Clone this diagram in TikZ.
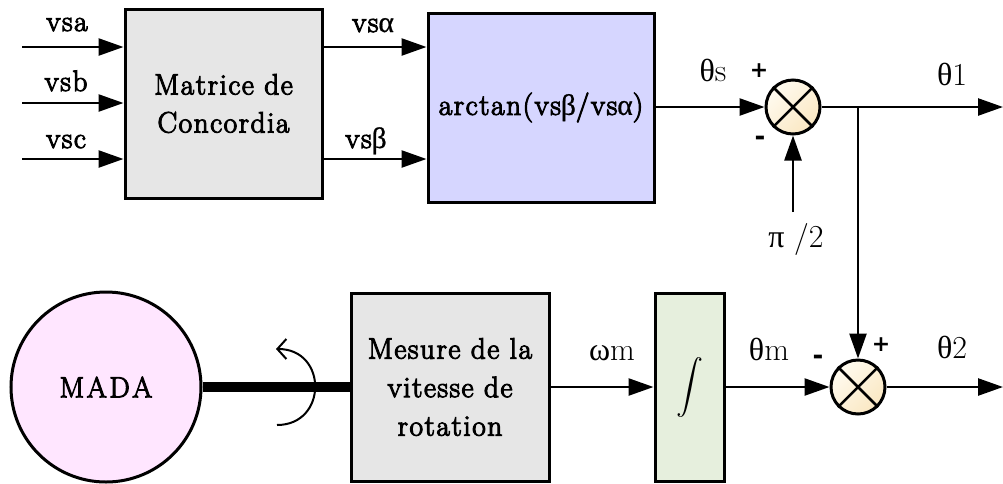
\documentclass[tikz,border=0pt]{standalone}
\usepackage{fontspec}
\newfontfamily\grkfont{Liberation Serif}
\newfontfamily\boxfont[FakeBold=3.5,LetterSpace=5]{Latin Modern Roman}
\newfontfamily\grkbox[FakeBold=0.7]{Liberation Serif}
\newfontfamily\signfont{DejaVu Sans}
\newcommand\grk[1]{{\grkfont\mdseries #1}}
\newcommand\grkb[1]{{\grkbox #1}}
\usetikzlibrary{arrows.meta}
\definecolor{cgray}{HTML}{E6E6E6}
\definecolor{clav}{HTML}{D6D6FF}
\definecolor{cgreen}{HTML}{E6EFDD}
\definecolor{cpink}{HTML}{FFE6FF}
\definecolor{csumA}{HTML}{FFFBF0}
\definecolor{csumB}{HTML}{FAE7C2}
\begin{document}
\begin{tikzpicture}[x=1pt,y=-1pt,
  blk/.style={draw, line width=3pt, align=center, inner sep=0pt,
    font=\boxfont\fontsize{29.5}{38}\selectfont},
  sumj/.style={circle, draw, line width=3pt, minimum size=54pt, inner sep=0pt,
    top color=csumA, bottom color=csumB, shading angle=45},
  arr/.style={line width=2.5pt, -{Triangle[length=25pt,width=17pt]}},
  cross/.style={line width=2.5pt},
  lbl/.style={font=\boxfont\fontsize{29.5}{34}\selectfont, anchor=base, inner sep=0pt},
  glbl/.style={font=\fontsize{32}{34}\selectfont, anchor=base, inner sep=0pt},
  plus/.style={font=\signfont\bfseries\fontsize{22}{24}\selectfont, inner sep=0pt},
  minus/.style={font=\signfont\bfseries\fontsize{26}{28}\selectfont, inner sep=0pt},
]
\useasboundingbox (0,0) rectangle (1003,483);

% blocks
\node[blk, fill=cgray, minimum width=197pt, minimum height=189pt] (conc) at (223.5,103.5) {Matrice de\\Concordia};
\node[blk, fill=clav, minimum width=226pt, minimum height=189pt] (atan) at (541,107.5) {arctan(vs\grkb{β}/vs\grkb{α})};
\node[blk, fill=cgray, minimum width=198pt, minimum height=188pt, font=\boxfont\fontsize{29.5}{38.5}\selectfont] (mes) at (450,387) {Mesure de la\\vitesse de\\rotation};
\node[blk, fill=cgreen, minimum width=69pt, minimum height=188pt] (integ) at (689.5,387) {};
\node[scale=2.7] (intsym) at (689.5,387) {$\displaystyle\int$};
\node[circle, draw, line width=3pt, fill=cpink, minimum size=190pt, inner sep=0pt,
  font=\boxfont\fontsize{29}{32}\selectfont] (mada) at (106,387) {M\kern2.5ptA\kern2.5ptD\kern2.5ptA};

% summing junctions
\node[sumj] (s1) at (793,107) {};
\node[sumj] (s2) at (858,387) {};
\draw[cross] (s1.north west) -- (s1.south east) (s1.north east) -- (s1.south west);
\draw[cross] (s2.north west) -- (s2.south east) (s2.north east) -- (s2.south west);

% coordinates
\coordinate (ina) at (22,47);
\coordinate (inb) at (22,103);
\coordinate (inc) at (22,159);
\coordinate (pistart) at (793,212);
\coordinate (br) at (858,107);
\coordinate (out1) at (1003,107);
\coordinate (out2) at (1003,387);

% connectors
\draw[arr] (ina) -- (ina -| conc.west);
\draw[arr] (inb) -- (inb -| conc.west);
\draw[arr] (inc) -- (inc -| conc.west);
\draw[arr] (conc.east |- ina) -- (atan.west |- ina);
\draw[arr] (conc.east |- inc) -- (atan.west |- inc);
\draw[arr] (atan.east |- s1.west) -- (s1.west);
\draw[arr] (pistart) -- (s1.south);
\draw[arr] (s1.east) -- (out1);
\draw[arr] (br) -- (s2.north);
\draw[arr] (mes.east) -- (integ.west);
\draw[arr] (integ.east) -- (s2.west);
\draw[arr] (s2.east) -- (out2);

% shaft and rotation
\draw[line width=10pt] (mada.east) -- (mes.west);
\draw[line width=2pt, -{Straight Barb[length=9pt,width=20pt]}] (277,425) .. controls (327.7,425) and (327.7,349) .. (276,349);

% labels
\node[lbl] (la) at (67,31) {vsa};
\node[lbl] (lb) at (66,91) {vsb};
\node[lbl] (lc) at (66,148) {vsc};
\node[lbl] (lal) at (373,32) {vs\grkb{α}};
\node[lbl] (lbe) at (366,148) {vs\grkb{β}};
\node[glbl] (lts) at (713,81) {\grk{θ}s};
\node[glbl] (lt1) at (952,85) {\grk{θ}1};
\node[glbl] (lpi) at (796,247) {\grk{π} /2};
\node[glbl] (lwm) at (612,360) {\grk{ω}m};
\node[glbl] (ltm) at (769,360) {\grk{θ}m};
\node[glbl] (lt2) at (952,358) {\grk{θ}2};

% signs
\node[plus] (p1) at (759,71) {+};
\node[minus] (m1) at (760,141) {-};
\node[minus] (m2) at (818,360) {-};
\node[plus] (p2) at (881,345) {+};
\end{tikzpicture}
\end{document}
